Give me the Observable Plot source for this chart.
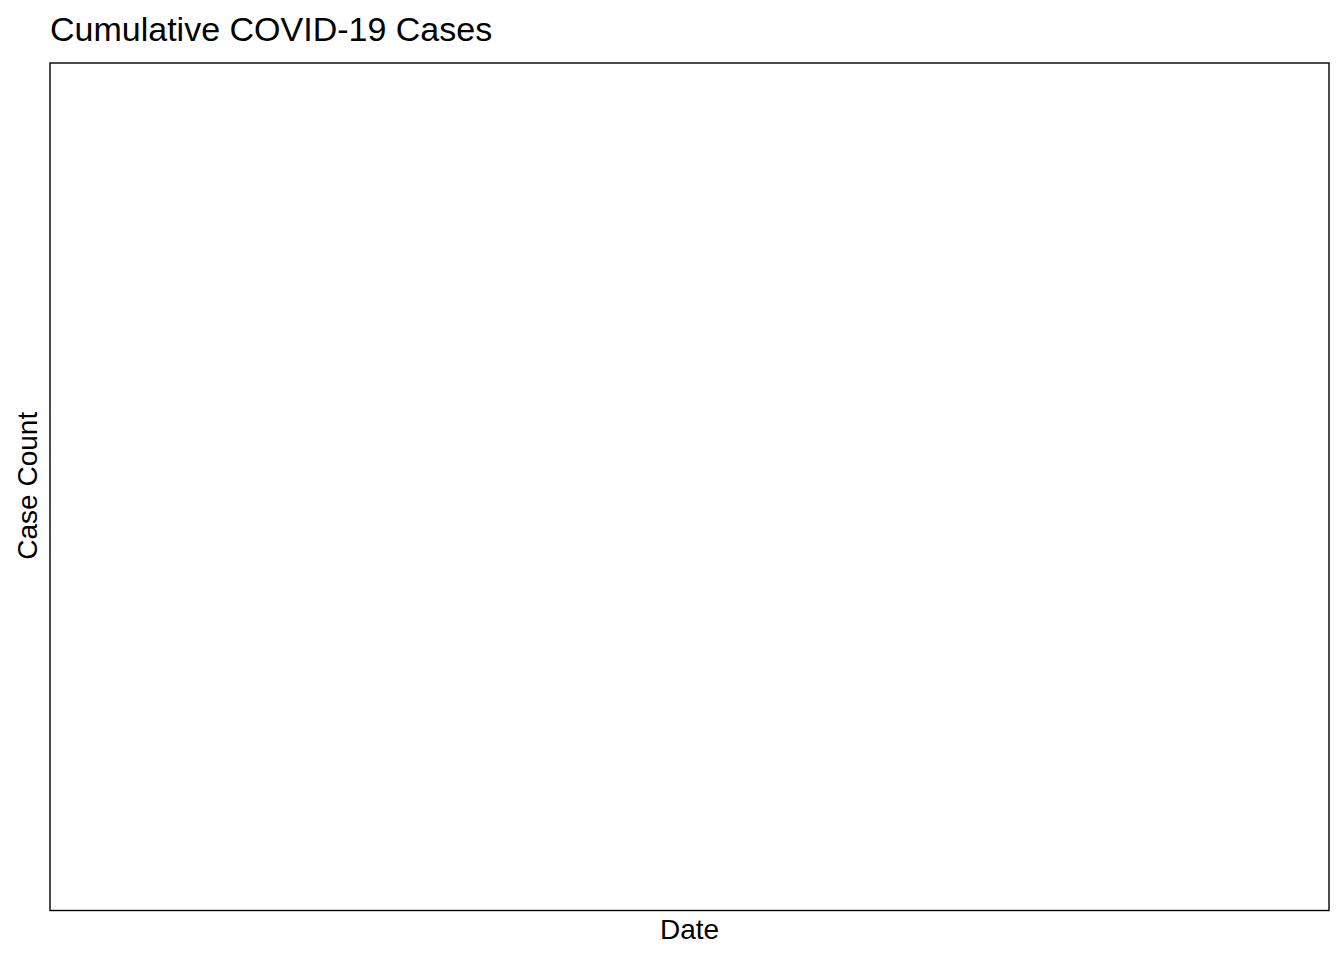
<!DOCTYPE html>
<html>
<head>
<meta charset="utf-8">
<script src="https://cdn.jsdelivr.net/npm/d3@7"></script>
<script src="https://cdn.jsdelivr.net/npm/@observablehq/plot@0.6"></script>
<style>
  html, body { margin: 0; padding: 0; background: #fff; }
  svg { display: block; }
</style>
</head>
<body>
<div id="chart"></div>
<script>
// The reference chart shows an empty panel: no data were plotted.
const dates = [];
const caseCounts = [];
const titleText = "Cumulative COVID-19 Cases";
const xLabel = "Date";
const yLabel = "Case Count";

const rows = dates.map((d, i) => ({date: new Date(d), count: caseCounts[i]}));

const chart = Plot.plot({
  width: 1344,
  height: 960,
  marginLeft: 49.5,
  marginTop: 62.5,
  marginRight: 15.5,
  marginBottom: 50,
  style: {fontFamily: "Liberation Sans, Arial, sans-serif", background: "#fff", color: "#000"},
  x: {type: "utc", axis: null},
  y: {type: "linear", axis: null},
  marks: [
    Plot.line(rows, {x: "date", y: "count", stroke: "#000"}),
    Plot.frame({stroke: "#000", strokeWidth: 1.4}),
    Plot.text([titleText], {frameAnchor: "top-left", textAnchor: "start", lineAnchor: "bottom", dx: 0, dy: -22.5, fontSize: 34, fill: "#000"}),
    Plot.text([xLabel], {frameAnchor: "bottom", textAnchor: "middle", lineAnchor: "bottom", dy: 28.5, fontSize: 28, fill: "#000"}),
    Plot.text([yLabel], {frameAnchor: "left", textAnchor: "middle", lineAnchor: "bottom", rotate: -90, dx: -13.5, dy: -1, fontSize: 28, fill: "#000"})
  ]
});
document.getElementById("chart").appendChild(chart);
</script>
</body>
</html>
